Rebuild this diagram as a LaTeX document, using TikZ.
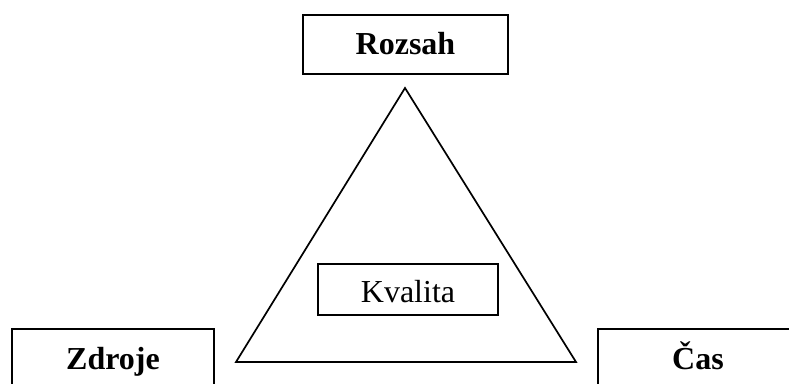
\documentclass[tikz,border=0pt]{standalone}
\usepackage{fontspec}
\setmainfont{Liberation Serif}
\usetikzlibrary{positioning}

\begin{document}
\begin{tikzpicture}[x=1pt,y=1pt,line width=1.7pt,every node/.append style={align=center,font=\fontsize{32}{32}\selectfont},box/.style={draw, rectangle, minimum width=202pt, minimum height=59pt, inner sep=0pt, text height=23pt, text depth=2pt},inner/.style={draw, rectangle, minimum width=180pt, minimum height=51pt, inner sep=0pt, text height=27pt, text depth=1pt},]
    \clip (0,0) rectangle (789,383);
    \node [box, minimum width=205pt] (scope) at (405.5,338.5) {\textbf{Rozsah}};
    \node [box] (res) at (113,24.5) {\textbf{Zdroje}};
    \node [box, minimum width=200pt] (time) at (698,24.5) {\textbf{Čas}};
    \coordinate (top) at (405,295);
    \coordinate (bl) at (236,21);
    \coordinate (br) at (576,21);
    \draw[line join=miter] (top) -- (bl) -- (br) -- cycle;
    \node [inner] (qual) at (408,93.5) {Kvalita};
\end{tikzpicture}
\end{document}
